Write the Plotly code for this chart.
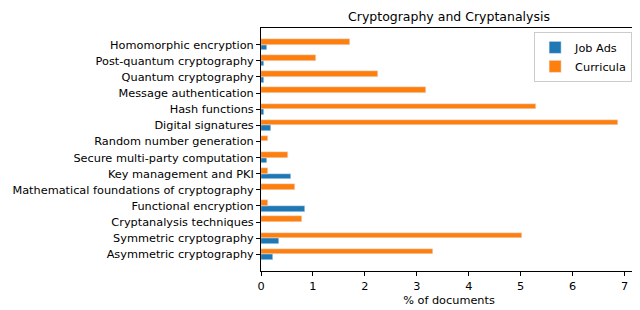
import plotly.graph_objects as go

categories = [
    "Asymmetric cryptography",
    "Symmetric cryptography",
    "Cryptanalysis techniques",
    "Functional encryption",
    "Mathematical foundations of cryptography",
    "Key management and PKI",
    "Secure multi-party computation",
    "Random number generation",
    "Digital signatures",
    "Hash functions",
    "Message authentication",
    "Quantum cryptography",
    "Post-quantum cryptography",
    "Homomorphic encryption",
]
job_ads = [0.24, 0.35, 0.0, 0.85, 0.0, 0.57, 0.11, 0.0, 0.20, 0.06, 0.0, 0.06, 0.06, 0.11]
curricula = [3.31, 5.02, 0.78, 0.13, 0.655, 0.13, 0.52, 0.13, 6.87, 5.30, 3.18, 2.25, 1.06, 1.71]
x_ticks = [0, 1, 2, 3, 4, 5, 6, 7]

pos = list(range(len(categories)))
bw = 0.35

fig = go.Figure()
fig.add_trace(go.Bar(y=pos, x=job_ads, orientation="h", name="Job Ads",
                     marker_color="#1f77b4", width=bw, offset=-bw))
fig.add_trace(go.Bar(y=pos, x=curricula, orientation="h", name="Curricula",
                     marker_color="#ff7f0e", width=bw, offset=0))

font = "DejaVu Sans"
W, H = 632, 302
L, R, T, B = 253, 3, 20, 39
fig.update_layout(
    width=W, height=H,
    margin=dict(l=L, r=R, t=T, b=B),
    paper_bgcolor="white", plot_bgcolor="white",
    font=dict(family=font, size=11.3, color="black"),
    title=dict(text="Cryptography and Cryptanalysis", x=(L + W - R) / 2 / W, xanchor="center",
               y=1 - 9 / H, yanchor="middle", font=dict(size=12.5)),
    showlegend=True,
    legend=dict(x=0.987, xanchor="right", y=0.984, yanchor="top",
                bordercolor="#cccccc", borderwidth=1, bgcolor="rgba(255,255,255,0.8)",
                font=dict(size=11.3), tracegroupgap=0),
    bargap=0,
)
fig.update_xaxes(range=[0, 7.24], tickvals=x_ticks, showgrid=False, zeroline=False,
                 showline=True, linecolor="black", linewidth=1, mirror=True,
                 ticks="outside", ticklen=4, tickcolor="black",
                 title=dict(text="% of documents", font=dict(size=11.3), standoff=4))
fig.update_yaxes(range=[-1.035, 14.035], tickvals=pos, ticktext=categories,
                 showgrid=False, zeroline=False,
                 showline=True, linecolor="black", linewidth=1, mirror=True,
                 ticks="outside", ticklen=4, tickcolor="black")

fig.write_html("out.html")
